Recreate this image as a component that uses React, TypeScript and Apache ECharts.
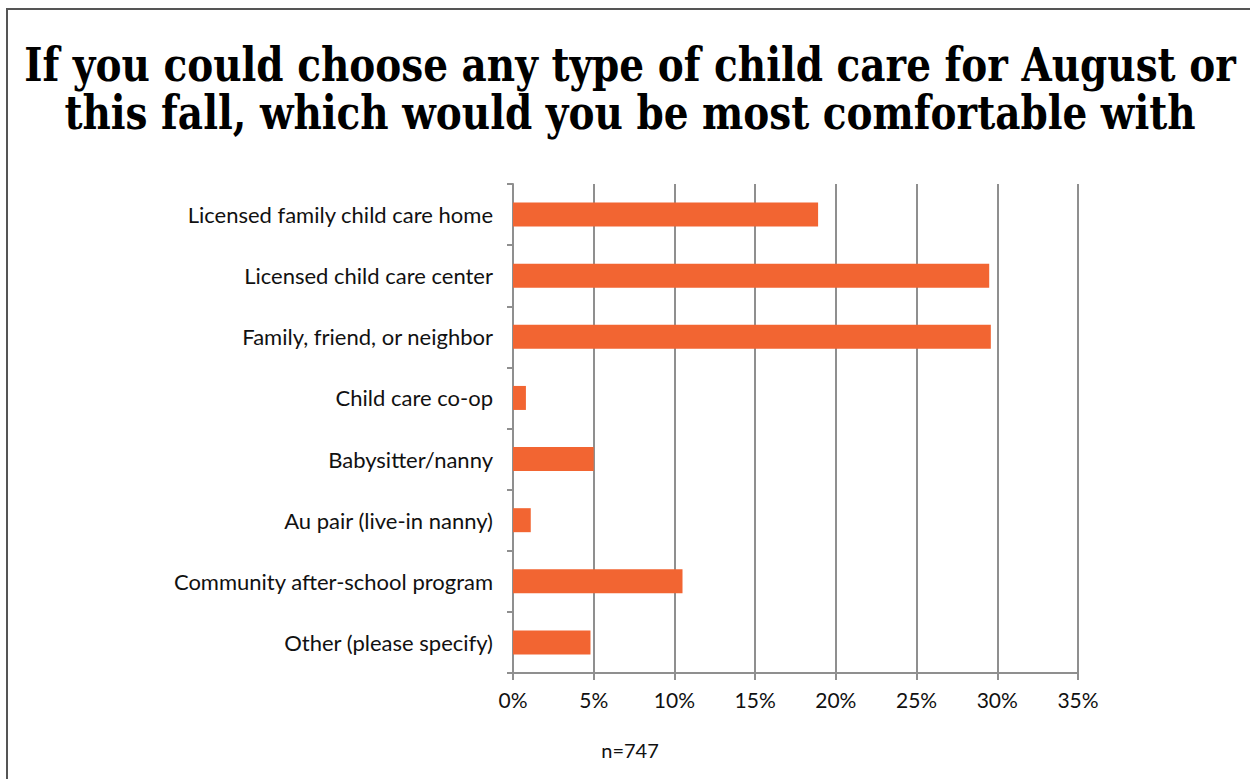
import React, { useEffect, useRef } from "react";
import * as echarts from "echarts";

const categories = [
  "Licensed family child care home",
  "Licensed child care center",
  "Family, friend, or neighbor",
  "Child care co-op",
  "Babysitter/nanny",
  "Au pair (live-in nanny)",
  "Community after-school program",
  "Other (please specify)",
];
const values = [18.9, 29.5, 29.6, 0.8, 5.0, 1.1, 10.5, 4.8];
const titleLines = [
  "If you could choose any type of child care for August or",
  "this fall, which would you be most comfortable with",
];
const footnote = "n=747";

export default function App() {
  const ref = useRef<HTMLDivElement>(null);
  useEffect(() => {
    const chart = echarts.init(ref.current!, null, { renderer: "svg" });
    const axisColor = "#8f8f8f";
    chart.setOption({
      animation: false,
      backgroundColor: "#ffffff",
      grid: { left: 513, right: 172, top: 184, bottom: 106, containLabel: false },
      xAxis: {
        type: "value",
        min: 0,
        max: 35,
        interval: 5,
        axisLabel: {
          formatter: "{value}%",
          fontFamily: "Lato",
          fontSize: 21,
          color: "#111",
          margin: 16,
        },
        axisLine: { show: true, lineStyle: { color: axisColor, width: 2 } },
        axisTick: { show: true, length: 7, lineStyle: { color: axisColor, width: 2 } },
        splitLine: { show: true, lineStyle: { color: axisColor, width: 2 } },
      },
      yAxis: {
        type: "category",
        data: categories,
        inverse: true,
        axisLabel: {
          fontFamily: "Lato",
          fontSize: 22,
          color: "#111",
          margin: 20,
        },
        axisLine: { show: true, lineStyle: { color: axisColor, width: 2 } },
        axisTick: { show: true, length: 6, lineStyle: { color: axisColor, width: 2 } },
      },
      series: [
        {
          type: "bar",
          data: values,
          barWidth: 24,
          itemStyle: { color: "#f26532" },
        },
      ],
      graphic: [
        {
          type: "rect",
          shape: { x: 7, y: 9, width: 1300, height: 900 },
          style: { fill: "none", stroke: "#555555", lineWidth: 2 },
          silent: true,
        },
        {
          type: "text",
          x: 630,
          y: 41,
          scaleY: 1.2,
          style: {
            text: titleLines.join("\n"),
            fontFamily: "DejaVu Serif",
            fontWeight: "bold",
            fontSize: 39,
            lineHeight: 40,
            fill: "#000",
            align: "center",
            verticalAlign: "top",
          },
        },
        {
          type: "text",
          x: 630,
          y: 750,
          style: {
            text: footnote,
            fontFamily: "Lato",
            fontSize: 20,
            fill: "#111",
            align: "center",
            verticalAlign: "middle",
          },
        },
      ],
    });
    return () => chart.dispose();
  }, []);
  return (
    <div
      ref={ref}
      style={{ position: "fixed", left: 0, top: 0, width: 1250, height: 779 }}
    />
  );
}
